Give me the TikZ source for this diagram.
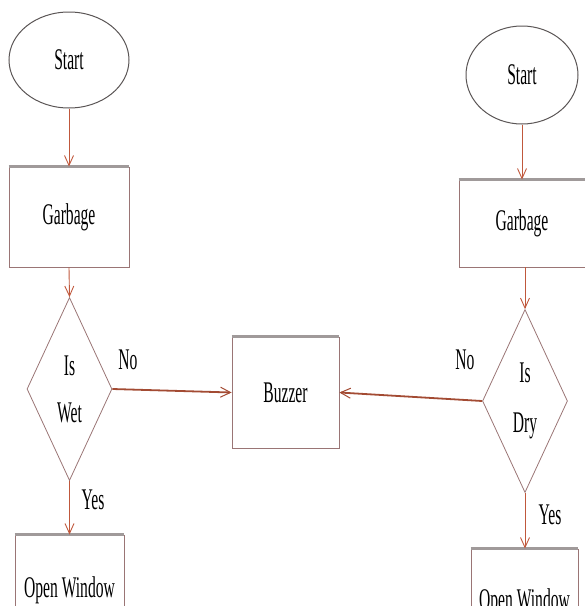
\documentclass[tikz,border=0pt]{standalone}
\usepackage{fontspec}
\setmainfont{Liberation Serif}
\usepackage{graphicx}
\usetikzlibrary{shapes.geometric,arrows.meta}
\definecolor{arrowcol}{HTML}{C0583C}
\definecolor{boxcol}{HTML}{9A7575}
\definecolor{topcol}{HTML}{A09A9A}
\definecolor{ellcol}{HTML}{5A5555}
\newcommand\ct[1]{\scalebox{0.52}[1]{#1}}
\begin{document}
\begin{tikzpicture}[x=1pt,y=-1pt,
  every node/.style={font=\fontsize{30}{31}\selectfont, text=black},
  startnode/.style={ellipse, draw=ellcol, line width=1pt, inner sep=0pt},
  boxnode/.style={rectangle, draw=boxcol, line width=0.9pt, inner sep=0pt},
  decnode/.style={diamond, draw=boxcol, line width=0.8pt, inner sep=0pt, aspect=0.46, align=center},
  flow/.style={draw=arrowcol, line width=0.9pt, -{Straight Barb[length=10pt,width=9pt]}},
  noflow/.style={draw=arrowcol!85!black, line width=1.8pt, -{Straight Barb[length=10pt,width=10pt,line width=1pt]}},
  lbl/.style={inner sep=0pt}
]
\useasboundingbox (0,0) rectangle (585,606);
\clip (0,0) rectangle (585,606);
% left column
\node[startnode, minimum width=120pt, minimum height=96pt] (s1) at (69,60) {\ct{Start}};
\node[boxnode, minimum width=120pt, minimum height=100pt] (g1) at (69,217) {\ct{Garbage}};
\node[decnode, minimum width=85pt, minimum height=183pt] (d1) at (69.5,389) {\ct{Is}\\[16pt]\ct{Wet}};
\node[boxnode, minimum width=109pt, minimum height=110pt] (o1) at (69.5,590) {\ct{Open Window}};
% right column
\node[startnode, minimum width=112pt, minimum height=98pt] (s2) at (522,75) {\ct{Start}};
\node[boxnode, minimum width=126pt, minimum height=87pt] (g2) at (522,223.5) {\ct{Garbage}};
\node[decnode, minimum width=85pt, minimum height=183pt] (d2) at (525,401) {\ct{Is}\\[19pt]\ct{Dry}};
\node[boxnode, minimum width=107pt, minimum height=106pt] (o2) at (524.5,602) {\ct{Open Window}};
% buzzer
\node[boxnode, minimum width=107pt, minimum height=111pt] (bz) at (285.5,392.5) {\ct{Buzzer}};
% thicker top edges of boxes
\foreach \b in {g1,g2,o1,o2,bz}{
  \draw[topcol, line width=2.2pt] (\b.north west) -- (\b.north east);
}
% connectors
\draw[flow] (s1.south) -- (g1.north);
\draw[flow] (g1.south) -- (d1.north);
\draw[flow] (d1.south) -- (o1.north);
\draw[flow] (s2.south) -- (s2.south |- g2.north);
\draw[flow] (g2.south -| d2.north) -- (d2.north);
\draw[flow] (d2.south) -- (d2.south |- o2.north);
\draw[noflow] (d1.east) -- (bz.west);
\draw[noflow] (d2.west) -- (bz.east);
% labels
\node[lbl] (no1) at (128,360) {\ct{No}};
\node[lbl] (yes1) at (93,500) {\ct{Yes}};
\node[lbl] (no2) at (465,360) {\ct{No}};
\node[lbl] (yes2) at (550,515) {\ct{Yes}};
\end{tikzpicture}
\end{document}
